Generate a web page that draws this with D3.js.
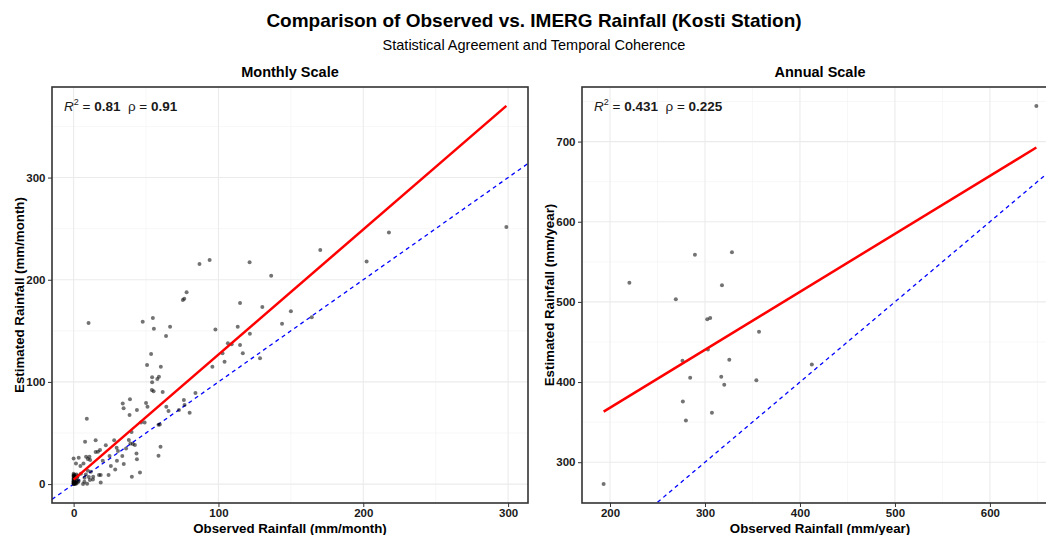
<!DOCTYPE html>
<html>
<head>
<meta charset="utf-8">
<script src="https://cdn.jsdelivr.net/npm/d3@7"></script>
<style>
  body { margin: 0; background: #fff; }
  svg { font-family: "Liberation Sans", Arial, sans-serif; }
  .tick text { font-weight: bold; font-size: 11.5px; fill: #1a1a1a; }
  .tick line { stroke: #333; }
</style>
</head>
<body>
<svg id="chart" width="1046" height="535"></svg>
<script>
// --- Monthly pairs (observed vs IMERG) ---
const monthlyObs = [
  298.8, 217.7, 170.3, 202.3, 121.5, 93.9, 86.9, 136.4, 78, 76.4, 75.4, 114.9, 130.3, 150, 164.4,
  10.3, 47.7, 54.7, 55.4, 66.6, 113.3, 97.9, 143.9, 63.8, 121.7, 106.5, 109.1, 114.9, 102.8, 116.8,
  53.5, 128.7, 104.2, 50.7, 95.8, 60.2, 54.2, 58.9, 57.8, 54.2, 54, 55.2, 61.5, 84.1, 76.1,
  76.6, 80.1, 72.7, 64, 65.5, 33.9, 34.5, 38.9, 50, 51, 43.7, 38.6, 9.1, 46.5, 49,
  59.5, 58.6, 60, 58.6, 40, 38.1, 39.2, 40.9, 42.3, 36.2, 43.4, 43.7, 45.8, 40.2, 34.6,
  33.6, 30.6, 29.7, 29.9, 28, 22.2, 24.8, 25.7, 28.7, 24.1, 20.1, 18.2, 16.8, 15.2, 15.2,
  18.7, 17.5, 18.7, 13.5, 7.9, 8.6, 10.9, 9.8, 11.4, 3.5, 0, 1.6, 6.8, 4.7, 9.8,
  11.9, 11.2, 9.3, 6.5, 7.5, 8.4, 13.3, 7.4, 10.5, 5,
  // dry-season cluster near the origin
  0, 0, 0, 0, 0, 0, 0, 0, 0.2, 0.5, 0.5, 1, 1, 1.5, 2, 2, 2.5, 3, 0, 0,
  0.3, 1, 2, 0, 0.8, 1.2, 3.5, 2.8, 0, 0
];
const monthlyEst = [
  251.7, 246.2, 229.2, 217.8, 217.1, 219.4, 215.5, 204, 187.7, 181.5, 180.2, 177.3, 173.4, 169.1, 163.2,
  157.7, 159, 162.6, 152.1, 154.1, 154.1, 151.2, 157, 145, 147.2, 137.8, 136.8, 136.1, 128, 128,
  127.3, 123.1, 119.8, 116.6, 114.9, 114.9, 104.5, 105.1, 102.8, 99.6, 92.1, 90.8, 90.1, 89.1, 82.3,
  77.4, 69.9, 72.5, 75.7, 71.5, 78.9, 74.2, 83, 79.4, 75.6, 72.5, 67.7, 64, 60.2, 60.2,
  58.4, 58.1, 36.6, 27.8, 51, 43.1, 39.8, 39.2, 38.2, 34.9, 30, 24.2, 11.4, 7.2, 19.6,
  27.4, 32.3, 35.6, 22.9, 42.8, 37.9, 27.4, 17.6, 14.4, 8.8, 22.9, 33.3, 31.7, 31.3, 42.8,
  8.8, 8.8, 1.6, 7.2, 41.5, 26.8, 26.8, 24.5, 23.5, 25.8, 25.1, 20.2, 20.2, 17.6, 13.1,
  12.1, 3.9, 0.3, 0, 6.2, 9.5, 4.6, 2.3, 7, 10,
  0, 0.5, 1, 2, 3, 4, 5, 6, 8, 9, 2, 3, 7, 1, 4, 9.5, 6, 2, 10, 7.5,
  0, 0, 0.5, 8.7, 5.5, 1.5, 3, 8, 2.5, 1.2
];

// --- Annual totals ---
const annualObs = [193.3, 220.4, 269.3, 289.4, 328.4, 317.9, 302.4, 305.5, 356.9, 303.1, 276.3,
  325.6, 284.4, 317.1, 320.3, 354.1, 412.5, 276.7, 307.3, 279.9, 648.9];
const annualEst = [272.7, 523.8, 503.4, 558.7, 562, 520.9, 478.5, 479.8, 462.7, 440.7, 426.5,
  427.8, 405.3, 406.6, 396.6, 402.4, 421.9, 375.8, 361.7, 352.1, 744.5];

// linear fits and stats as printed on the chart
const monthlyFit = { slope: 1.224, intercept: 4.4 };
const annualFit = { slope: 0.7234, intercept: 223.2 };
const monthlyStats = { r2: "0.81", rho: "0.91" };
const annualStats = { r2: "0.431", rho: "0.225" };

const monthlyTicks = { x: [0, 100, 200, 300], y: [0, 100, 200, 300] };
const annualTicks = { x: [200, 300, 400, 500, 600], y: [300, 400, 500, 600, 700] };

const svg = d3.select("#chart");

svg.append("text")
  .attr("x", 534).attr("y", 27)
  .attr("text-anchor", "middle")
  .style("font-size", "19px").style("font-weight", "bold").style("fill", "#000")
  .text("Comparison of Observed vs. IMERG Rainfall (Kosti Station)");

svg.append("text")
  .attr("x", 534).attr("y", 50)
  .attr("text-anchor", "middle")
  .style("font-size", "14.5px").style("fill", "#000")
  .text("Statistical Agreement and Temporal Coherence");

// ggplot-like 5% expansion
const expand = ([a, b]) => [a - (b - a) * 0.05, b + (b - a) * 0.05];

function minorBreaks(major, domain) {
  const step = major[1] - major[0];
  const out = [];
  for (let v = major[0] - step / 2; v <= domain[1]; v += step) {
    if (v >= domain[0]) out.push(v);
  }
  return out;
}

function drawPanel(cfg, id) {
  const { left, right, top, bottom } = cfg.box;
  const fit = cfg.fit;
  const xExt = d3.extent(cfg.obs);
  const fitY = xExt.map(x => fit.intercept + fit.slope * x);
  const yExt = d3.extent(cfg.est.concat(fitY));

  const x = d3.scaleLinear().domain(expand(xExt)).range([left, right]);
  const y = d3.scaleLinear().domain(expand(yExt)).range([bottom, top]);

  const g = svg.append("g");

  g.append("clipPath").attr("id", "clip" + id)
    .append("rect")
    .attr("x", left).attr("y", top)
    .attr("width", right - left).attr("height", bottom - top);

  // grid: minor then major
  const grid = g.append("g");
  minorBreaks(cfg.ticks.x, x.domain()).forEach(v => {
    grid.append("line").attr("x1", x(v)).attr("x2", x(v)).attr("y1", top).attr("y2", bottom)
      .attr("stroke", "#f2f2f2").attr("stroke-width", 0.6);
  });
  minorBreaks(cfg.ticks.y, y.domain()).forEach(v => {
    grid.append("line").attr("y1", y(v)).attr("y2", y(v)).attr("x1", left).attr("x2", right)
      .attr("stroke", "#f2f2f2").attr("stroke-width", 0.6);
  });
  cfg.ticks.x.forEach(v => {
    grid.append("line").attr("x1", x(v)).attr("x2", x(v)).attr("y1", top).attr("y2", bottom)
      .attr("stroke", "#ebebeb").attr("stroke-width", 1.1);
  });
  cfg.ticks.y.forEach(v => {
    grid.append("line").attr("y1", y(v)).attr("y2", y(v)).attr("x1", left).attr("x2", right)
      .attr("stroke", "#ebebeb").attr("stroke-width", 1.1);
  });

  const plot = g.append("g").attr("clip-path", `url(#clip${id})`);

  // 1:1 reference line across the whole panel
  const d = x.domain();
  plot.append("line")
    .attr("x1", x(d[0])).attr("y1", y(d[0]))
    .attr("x2", x(d[1])).attr("y2", y(d[1]))
    .attr("stroke", "#0000ff").attr("stroke-width", 1.3)
    .attr("stroke-dasharray", "4,3.6");

  // points
  plot.selectAll("circle")
    .data(d3.zip(cfg.obs, cfg.est))
    .enter().append("circle")
    .attr("cx", p => x(p[0]))
    .attr("cy", p => y(p[1]))
    .attr("r", 2)
    .attr("fill", "#000")
    .attr("fill-opacity", 0.55);

  // regression line over observed range
  plot.append("line")
    .attr("x1", x(xExt[0])).attr("y1", y(fitY[0]))
    .attr("x2", x(xExt[1])).attr("y2", y(fitY[1]))
    .attr("stroke", "#ff0000").attr("stroke-width", 2.5);

  // axes
  g.append("g")
    .attr("transform", `translate(0,${bottom})`)
    .call(d3.axisBottom(x).tickValues(cfg.ticks.x).tickSize(4).tickPadding(2))
    .call(a => a.select(".domain").remove());
  g.append("g")
    .attr("transform", `translate(${left},0)`)
    .call(d3.axisLeft(y).tickValues(cfg.ticks.y).tickSize(4).tickPadding(2.5))
    .call(a => a.select(".domain").remove());

  // panel border
  g.append("rect")
    .attr("x", left).attr("y", top)
    .attr("width", right - left).attr("height", bottom - top)
    .attr("fill", "none").attr("stroke", "#333").attr("stroke-width", 1.6);

  // panel title
  g.append("text")
    .attr("x", (left + right) / 2).attr("y", 77)
    .attr("text-anchor", "middle")
    .style("font-size", "14.5px").style("font-weight", "bold")
    .text(cfg.title);

  // axis titles
  g.append("text")
    .attr("x", (left + right) / 2).attr("y", 533)
    .attr("text-anchor", "middle")
    .style("font-size", "13.3px").style("font-weight", "bold")
    .text(cfg.xLabel);
  g.append("text")
    .attr("transform", `translate(${cfg.yLabelX},${(top + bottom) / 2}) rotate(-90)`)
    .attr("text-anchor", "middle")
    .style("font-size", "13.3px").style("font-weight", "bold")
    .text(cfg.yLabel);

  // stats label
  const s = g.append("text")
    .attr("x", left + 12).attr("y", 110.5)
    .style("font-size", "13.5px").style("fill", "#1a1a1a");
  s.append("tspan").style("font-style", "italic").text("R");
  s.append("tspan").attr("dy", -5.5).style("font-size", "9px").text("2");
  s.append("tspan").attr("dy", 5.5).text(" = ");
  s.append("tspan").style("font-weight", "bold").text(cfg.stats.r2);
  s.append("tspan").text("\u00a0\u00a0\u03c1 = ");
  s.append("tspan").style("font-weight", "bold").text(cfg.stats.rho);
}

drawPanel({
  box: { left: 52, right: 528, top: 87, bottom: 503 },
  obs: monthlyObs, est: monthlyEst, fit: monthlyFit, stats: monthlyStats,
  ticks: monthlyTicks,
  title: "Monthly Scale",
  xLabel: "Observed Rainfall (mm/month)",
  yLabel: "Estimated Rainfall (mm/month)",
  yLabelX: 24
}, "m");

drawPanel({
  box: { left: 582, right: 1058, top: 87, bottom: 503 },
  obs: annualObs, est: annualEst, fit: annualFit, stats: annualStats,
  ticks: annualTicks,
  title: "Annual Scale",
  xLabel: "Observed Rainfall (mm/year)",
  yLabel: "Estimated Rainfall (mm/year)",
  yLabelX: 553.5
}, "a");
</script>
</body>
</html>
